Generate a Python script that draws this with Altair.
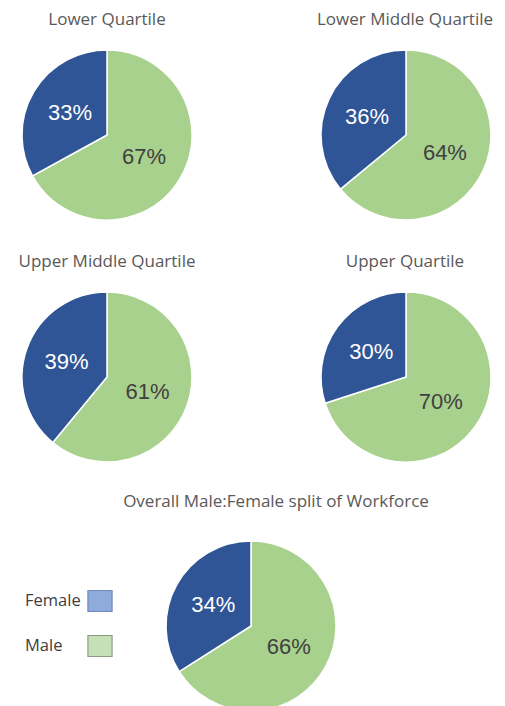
import altair as alt
import pandas as pd

# ---- data ----
groups = [
    "Lower Quartile",
    "Lower Middle Quartile",
    "Upper Middle Quartile",
    "Upper Quartile",
    "Overall Male:Female split of Workforce",
]
male_pct = [67, 64, 61, 70, 66]
female_pct = [33, 36, 39, 30, 34]
genders = ["Male", "Female"]
pie_colors = ["#A9D18E", "#2F5597"]
legend_order = ["Female", "Male"]
legend_fill = ["#8FAADC", "#C5E0B4"]
legend_stroke = ["#6F89B8", "#8C9C88"]

# ---- layout (chart coordinates) ----
pie_centers = [(99, 127), (398, 127), (99, 369), (398, 369), (243, 618)]
title_pos = [(99, 12), (397, 12), (99, 254), (397, 254), (268, 494)]
R = 85

rows = []
for g, m, f in zip(groups, male_pct, female_pct):
    rows.append({"group": g, "gender": "Male", "value": m, "ord": 0, "label": f"{m}%"})
    rows.append({"group": g, "gender": "Female", "value": f, "ord": 1, "label": f"{f}%"})
df = pd.DataFrame(rows)

layers = []
for i, g in enumerate(groups):
    sub = df[df.group == g]
    cx, cy = pie_centers[i]
    tx, ty = title_pos[i]
    base = alt.Chart(sub).encode(
        theta=alt.Theta("value:Q", stack=True),
        order=alt.Order("ord:Q"),
        x=alt.value(cx),
        y=alt.value(cy),
    )
    arcs = base.mark_arc(outerRadius=R, stroke="white", strokeWidth=1.5).encode(
        color=alt.Color(
            "gender:N",
            scale=alt.Scale(domain=genders, range=pie_colors),
            legend=None,
        )
    )
    labels = base.mark_text(radius=43, font="Liberation Sans", fontSize=22).encode(
        text="label:N",
        color=alt.condition(
            "datum.gender == 'Female'", alt.value("white"), alt.value("#404040")
        ),
    )
    title = (
        alt.Chart(pd.DataFrame({"group": [g]}))
        .mark_text(font="Open Sans", fontSize=17, color="#595959")
        .encode(text="group:N", x=alt.value(tx), y=alt.value(ty))
    )
    layers += [arcs, labels, title]

# ---- legend (built from the category list) ----
leg_df = pd.DataFrame({"gender": legend_order})
leg_y = alt.Y(
    "gender:O",
    scale=alt.Scale(type="point", domain=legend_order, range=[593, 638], padding=0),
    axis=None,
)
leg_swatch = (
    alt.Chart(leg_df)
    .mark_point(filled=True, shape="M-1.15,-1H1.15V1H-1.15Z", size=441, opacity=1, strokeWidth=1.2)
    .encode(
        x=alt.value(92),
        y=leg_y,
        fill=alt.Fill("gender:N", scale=alt.Scale(domain=legend_order, range=legend_fill), legend=None),
        stroke=alt.Stroke("gender:N", scale=alt.Scale(domain=legend_order, range=legend_stroke), legend=None),
    )
)
leg_text = (
    alt.Chart(leg_df)
    .mark_text(align="left", font="Open Sans", fontSize=16.5, color="#404040")
    .encode(x=alt.value(17), y=leg_y, text="gender:N")
)
layers += [leg_swatch, leg_text]

chart = (
    alt.layer(*layers)
    .properties(width=489, height=690, padding=0)
    .configure_view(stroke=None)
)

chart.save("out.html", embed_options={"renderer": "svg", "actions": False})
